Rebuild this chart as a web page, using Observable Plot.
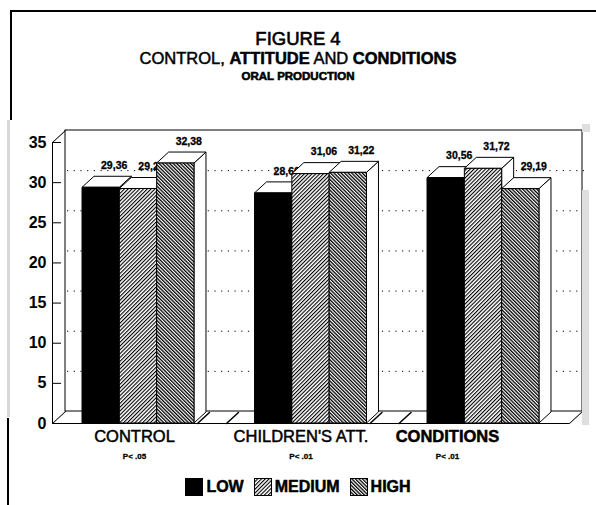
<!DOCTYPE html>
<html>
<head>
<meta charset="utf-8">
<script src="https://cdn.jsdelivr.net/npm/d3@7"></script>
<script src="https://cdn.jsdelivr.net/npm/@observablehq/plot@0.6"></script>
<style>
  html, body { margin: 0; padding: 0; background: #fff; }
  #wrap { position: relative; width: 596px; height: 505px; overflow: hidden; background: #fff;
          font-family: "Liberation Sans", Arial, sans-serif; color: #000; }
  .abs { position: absolute; }
  .ttl { position: absolute; left: 0; width: 596px; text-align: center; white-space: nowrap; }
  .legend { position: absolute; left: 0; width: 596px; top: 478px; display: flex; justify-content: center;
            align-items: center; font-weight: bold; font-size: 16px; -webkit-text-stroke: 0.5px #000; }
  .legend span.item { display: inline-flex; align-items: center; margin: 0 5px; }
  .legend svg { margin-right: 3px; }
</style>
</head>
<body>
<div id="wrap">
  <svg width="0" height="0" style="position:absolute">
    <defs>
      <pattern id="pMed" width="2.7" height="2.7" patternUnits="userSpaceOnUse" patternTransform="rotate(45)">
        <rect width="2.7" height="2.7" fill="#fff"/>
        <line x1="0.55" y1="0" x2="0.55" y2="2.7" stroke="#000" stroke-width="1.1"/>
      </pattern>
      <pattern id="pHigh" width="2.5" height="2.5" patternUnits="userSpaceOnUse" patternTransform="rotate(-45)">
        <rect width="2.5" height="2.5" fill="#fff"/>
        <line x1="0.65" y1="0" x2="0.65" y2="2.5" stroke="#000" stroke-width="1.3"/>
      </pattern>
    </defs>
  </svg>

  <!-- scanned page frame -->
  <div class="abs" style="left:10px;top:10px;width:586px;height:2px;background:#000"></div>
  <div class="abs" style="left:10px;top:10px;width:2px;height:110px;background:#000"></div>
  <div class="abs" style="left:7px;top:120px;width:3px;height:297px;background:#d9d9d9"></div>
  <div class="abs" style="left:7px;top:418px;width:2px;height:87px;background:#000"></div>

  <div id="bg" class="abs" style="left:0;top:0"></div>
  <div id="fg" class="abs" style="left:0;top:0"></div>

  <div class="abs" style="left:582px;top:190px;width:7px;height:235px;background:#dedede"></div>
  <div class="abs" style="left:582px;top:124px;width:8px;height:8px;background:#dedede"></div>

  <div class="ttl" style="top:28px;font-size:18.5px;-webkit-text-stroke:0.6px #000">FIGURE 4</div>
  <div class="ttl" style="top:49px;font-size:16.5px;-webkit-text-stroke:0.5px #000">CONTROL, <b>ATTITUDE</b> AND <b>CONDITIONS</b></div>
  <div class="ttl" style="top:70px;font-size:11.5px;font-weight:bold;-webkit-text-stroke:0.6px #000">ORAL PRODUCTION</div>

  <div class="legend" id="legend"></div>
</div>
<script>
// ---------- data ----------
const categories = ["CONTROL", "CHILDREN'S ATT.", "CONDITIONS"];
const pValues = ["P< .05", "P< .01", "P< .01"];
const levels = ["LOW", "MEDIUM", "HIGH"];
const lowValues = [29.36, 28.66, 30.56];
const mediumValues = [29.21, 31.06, 31.72];
const highValues = [32.38, 31.22, 29.19];
const yTicks = [0, 5, 10, 15, 20, 25, 30, 35];
const gridTicks = [5, 10, 15, 20, 25, 30];

// ---------- styling / layout ----------
const levelFills = ["#000", "url(#pMed)", "url(#pHigh)"];
const labelShift = [-4, -10, -36];       // category labels sit left of group centres
const labelBold = [false, false, true];
const W = 596, H = 505;
const mL = 52, mR = 27, mT = 142, mB = 82;
const padIn = 0.351, padOut = 0.174;
const DX = 12, DY = -11;        // bar depth
const WX = 13, WY = -12;        // wall depth
const font = "'Liberation Sans', Arial, sans-serif";

const series = [lowValues, mediumValues, highValues];
const rows = categories.flatMap((c, i) => levels.map((l, j) => ({cat: c, level: l, value: series[j][i]})));

const seg = {draw(ctx, l) { ctx.moveTo(0, 0); ctx.lineTo(0, -l); }};
const wallLen = Math.hypot(WX, WY), wallRot = Math.atan2(WX, -WY) * 180 / Math.PI;
const barLen = Math.hypot(DX, DY), barRot = Math.atan2(DX, -DY) * 180 / Math.PI;

// ---------- background: walls, floor, axis ----------
const bg = Plot.plot({
  width: W, height: H, marginLeft: mL, marginRight: mR, marginTop: mT, marginBottom: mB,
  style: {background: "transparent", fontFamily: font, color: "#000"},
  x: {domain: [0, 1], axis: null},
  y: {domain: [0, 35], axis: null},
  marks: [
    Plot.rect([0], {x1: 0, x2: 1, y1: 0, y2: 35, dx: WX, dy: WY, fill: "#fff", stroke: "#000", strokeWidth: 1}),
    Plot.ruleY(gridTicks, {dx: WX + 2, dy: WY, stroke: "#000", strokeDasharray: "1.2,5.5", strokeWidth: 1}),
    Plot.ruleX([0], {y1: 0, y2: 35, stroke: "#000"}),
    Plot.ruleY([0], {stroke: "#000"}),
    Plot.vector([[0, 35], [0, 0], [1, 0]], {x: d => d[0], y: d => d[1], length: wallLen, rotate: wallRot,
      anchor: "start", shape: seg, stroke: "#000", strokeWidth: 1}),
    Plot.axisY({ticks: gridTicks.concat([35]), tickSize: 9, dx: 9, tickFormat: () => "", stroke: "#000"}),
    Plot.axisY({ticks: yTicks, tickSize: 0, tickPadding: 6, fontSize: 16, fontWeight: "bold", fill: "#000",
      stroke: "#000", strokeWidth: 0.6})
  ]
});
document.getElementById("bg").appendChild(bg);

// ---------- foreground: 3D bars ----------
function draw3D(index, scales, values) {
  const ns = "http://www.w3.org/2000/svg";
  const g = document.createElementNS(ns, "g");
  const bw = scales.x.bandwidth();
  const ord = Array.from(index).sort((a, b) => values.x[a] - values.x[b]);
  const poly = (pts, fill) => {
    const p = document.createElementNS(ns, "polygon");
    p.setAttribute("points", pts.map(q => q.join(",")).join(" "));
    p.setAttribute("fill", fill);
    p.setAttribute("stroke", "#000");
    p.setAttribute("stroke-width", "1");
    p.setAttribute("stroke-linejoin", "round");
    g.appendChild(p);
  };
  for (const i of ord) {
    const xa = values.x[i], xb = xa + bw, yb = values.y1[i], yt = values.y2[i];
    poly([[xb, yt], [xb + DX, yt + DY], [xb + DX, yb + DY], [xb, yb]], "#fff");
    poly([[xa, yt], [xa + DX, yt + DY], [xb + DX, yt + DY], [xb, yt]], "#fff");
    poly([[xa, yt], [xb, yt], [xb, yb], [xa, yb]], values.fill ? values.fill[i] : "#000");
    const t = document.createElementNS(ns, "text");
    t.setAttribute("x", xa + bw / 2 + 13.5);
    t.setAttribute("y", yt - 22);
    t.setAttribute("dy", "0.35em");
    t.setAttribute("text-anchor", "middle");
    t.setAttribute("font-size", "10.5");
    t.setAttribute("font-weight", "bold");
    t.setAttribute("fill", "#000");
    t.setAttribute("stroke", "#000");
    t.setAttribute("stroke-width", "0.3");
    t.textContent = rows[i].value.toFixed(2).replace(".", ",");
    g.appendChild(t);
  }
  return g;
}

const labelMarks = categories.flatMap((c, i) => [
  Plot.text([c], {fx: d => d, text: d => d, frameAnchor: "bottom", dy: 18, dx: labelShift[i],
    fontSize: 16.5, fontWeight: labelBold[i] ? "bold" : "normal", fill: "#000", stroke: "#000", strokeWidth: 0.5}),
  Plot.text([c], {fx: d => d, text: () => pValues[i], frameAnchor: "bottom", dy: 35, dx: labelShift[i],
    fontSize: 8, fontWeight: "bold", fill: "#000", stroke: "#000", strokeWidth: 0.3})
]);

const fg = Plot.plot({
  width: W, height: H, marginLeft: mL, marginRight: mR, marginTop: mT, marginBottom: mB,
  style: {background: "transparent", fontFamily: font, color: "#000", overflow: "visible"},
  fx: {domain: categories, paddingInner: padIn, paddingOuter: padOut, axis: null, round: false},
  x: {domain: levels, padding: 0, axis: null, round: false},
  y: {domain: [0, 35], axis: null},
  color: {domain: levels, range: levelFills},
  marks: [
    Plot.vector(categories.slice(0, -1), {fx: d => d, frameAnchor: "bottom-right", dx: 3, length: barLen, rotate: barRot,
      anchor: "start", shape: seg, stroke: "#000"}),
    Plot.vector(categories.slice(0, -1), {fx: d => d, frameAnchor: "bottom-right", dx: 32, length: barLen, rotate: barRot,
      anchor: "start", shape: seg, stroke: "#000"}),
    Plot.barY(rows, {fx: "cat", x: "level", y: "value", fill: "level", render: draw3D}),
    ...labelMarks
  ]
});
document.getElementById("fg").appendChild(fg);

// ---------- legend ----------
const legend = document.getElementById("legend");
levels.forEach((l, j) => {
  const item = document.createElement("span");
  item.className = "item";
  item.innerHTML = `<svg width="18" height="18"><rect x="0.5" y="0.5" width="17" height="17" fill="${levelFills[j]}" stroke="#000"/></svg><span>${l}</span>`;
  legend.appendChild(item);
});
</script>
</body>
</html>
